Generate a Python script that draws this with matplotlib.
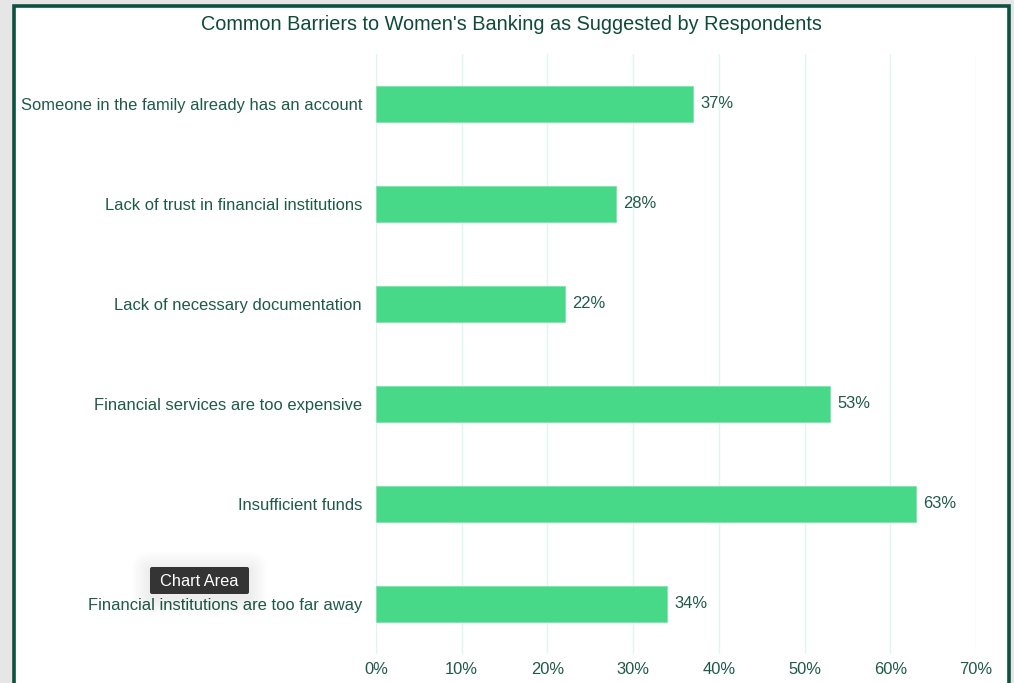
import matplotlib
matplotlib.use("Agg")
import matplotlib.pyplot as plt
from matplotlib.patches import Rectangle, FancyBboxPatch
from matplotlib.ticker import FuncFormatter

plt.rcParams['font.family'] = ['Liberation Sans', 'DejaVu Sans']

# Survey data (top to bottom)
barriers = [
    "Someone in the family already has an account",
    "Lack of trust in financial institutions",
    "Lack of necessary documentation",
    "Financial services are too expensive",
    "Insufficient funds",
    "Financial institutions are too far away",
]
shares = [37, 28, 22, 53, 63, 34]
x_ticks = [0, 10, 20, 30, 40, 50, 60, 70]

title = "Common Barriers to Women's Banking as Suggested by Respondents"

BAR = "#47d888"
TEXT = "#1e5a46"
TITLE = "#0f4a37"
FRAME = "#0d5140"
GRID = "#dff7f3"
FS = 11.9

W, H = 1014, 683
fig = plt.figure(figsize=(W / 100, H / 100), dpi=100)
fig.patch.set_facecolor("#e6e6e6")

# Background layer: white chart area with a dark green frame
bg = fig.add_axes([0, 0, 1, 1], zorder=0)
bg.set_xlim(0, W)
bg.set_ylim(H, 0)
bg.axis("off")
bg.add_patch(Rectangle((13.5, 5.5), 995, H + 20, facecolor="white",
                       edgecolor=FRAME, linewidth=2.6))
bg.text(511, 24, title, ha="center", va="center", fontsize=14.3, color=TITLE)

# Bar chart
ax = fig.add_axes([376 / W, 1 - 654 / H, 600 / W, 600 / H], zorder=1)
ax.set_facecolor("none")

y = list(range(len(barriers)))
bars = ax.barh(y, shares, height=0.36, color=BAR, edgecolor="#7ee6ad",
               linewidth=0.6, zorder=3)
for b, v in zip(bars, shares):
    ax.text(b.get_width() + 0.85, b.get_y() + b.get_height() / 2, f"{v}%",
            va="center", ha="left", fontsize=FS, color=TEXT)

ax.set_xlim(0, 70)
ax.set_ylim(len(barriers) - 0.5, -0.5)
ax.set_yticks(y)
ax.set_yticklabels(barriers, fontsize=FS, color=TEXT)
ax.set_xticks(x_ticks)
ax.xaxis.set_major_formatter(FuncFormatter(lambda v, p: f"{v:.0f}%"))
ax.tick_params(axis="x", labelsize=FS, labelcolor=TEXT, length=0, pad=6)
ax.tick_params(axis="y", length=0, pad=10)
ax.grid(axis="x", color=GRID, linewidth=1.0, zorder=0)
ax.set_axisbelow(True)
for s in ax.spines.values():
    s.set_visible(False)

# Hover tooltip overlay with a soft shadow
ov = fig.add_axes([0, 0, 1, 1], zorder=3)
ov.set_xlim(0, W)
ov.set_ylim(H, 0)
ov.axis("off")
ov.patch.set_alpha(0)
for grow in range(18, 0, -2):
    ov.add_patch(FancyBboxPatch((150 - grow, 570 - grow), 99 + 2 * grow,
                                27 + 2 * grow,
                                boxstyle=f"round,pad=0,rounding_size={grow}",
                                facecolor="black", edgecolor="none",
                                alpha=0.006))
ov.add_patch(FancyBboxPatch((150, 567), 99, 27,
                            boxstyle="round,pad=0,rounding_size=2",
                            facecolor="#2e2e2e", edgecolor="none", alpha=0.97))
ov.text(199.5, 581, "Chart Area", ha="center", va="center",
        fontsize=11.8, color="white")

fig.savefig("out.png", dpi=100, facecolor=fig.get_facecolor())
